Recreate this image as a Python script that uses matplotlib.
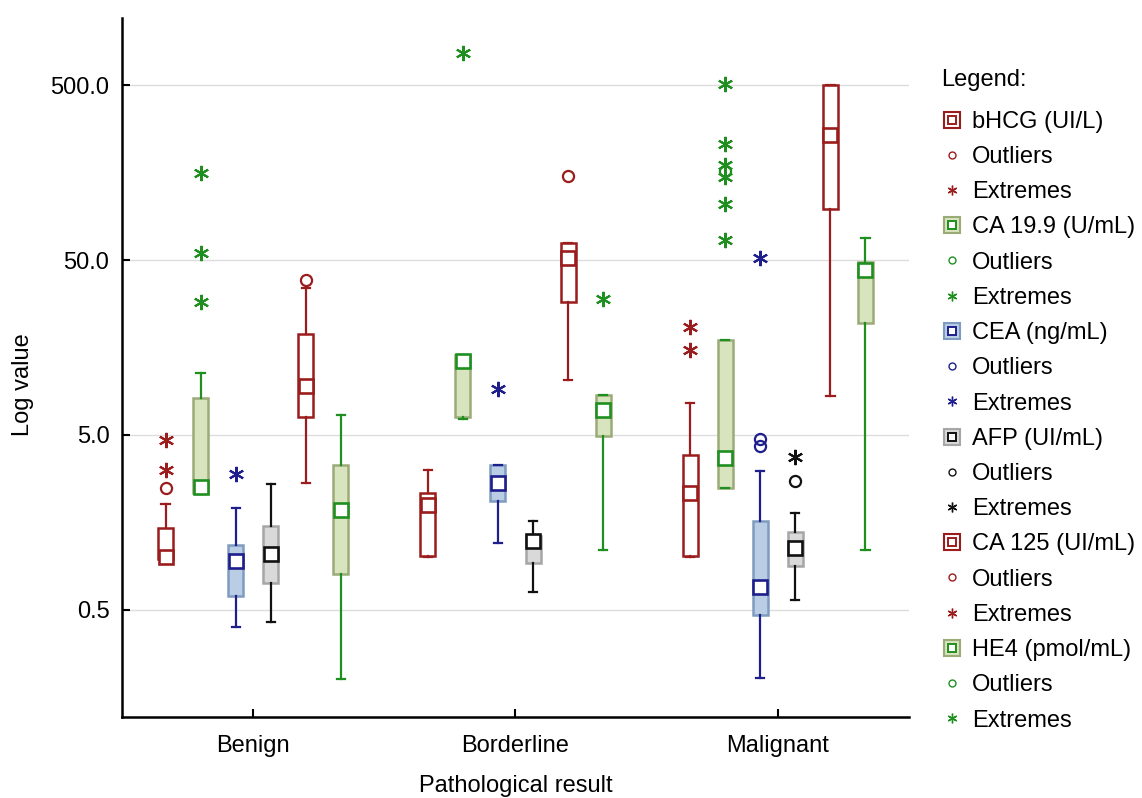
import numpy as np
import matplotlib
matplotlib.use("Agg")
import matplotlib.pyplot as plt
from matplotlib.lines import Line2D
from matplotlib.ticker import FixedLocator, FormatStrFormatter, NullLocator

plt.rcParams['font.family'] = ['Liberation Sans', 'DejaVu Sans']

groups = ["Benign", "Borderline", "Malignant"]
series = ["bHCG (UI/L)", "CA 19.9 (U/mL)", "CEA (ng/mL)", "AFP (UI/mL)",
          "CA 125 (UI/mL)", "HE4 (pmol/mL)"]

# rows = series, columns = groups
whisker_low = [[0.97, 1.0, 1.0], [2.3, 6.2, 2.5], [0.40, 1.21, 0.204],
               [0.427, 0.63, 0.57], [2.67, 10.3, 8.36], [0.20, 1.10, 1.10]]
q1 = [[0.98, 1.02, 1.01], [2.33, 6.34, 2.5], [0.597, 2.1, 0.47],
      [0.716, 0.93, 0.885], [6.34, 28.9, 97.5], [0.80, 4.92, 21.8]]
median = [[1.0, 1.99, 2.32], [2.52, 13.2, 3.67], [0.95, 2.67, 0.68],
          [1.05, 1.24, 1.13], [9.56, 51.1, 260], [1.86, 6.92, 43.9]]
q3 = [[1.47, 2.33, 3.85], [8.1, 14.3, 17.4], [1.17, 3.36, 1.62],
      [1.50, 1.32, 1.39], [18.9, 62.8, 500], [3.36, 8.5, 48.7]]
whisker_high = [[2.01, 3.17, 7.66], [11.3, 14.3, 17.4], [1.9, 3.36, 3.10],
                [2.61, 1.62, 1.79], [34.5, 62.8, 500], [6.53, 8.5, 66.6]]

outliers = [
    [[2.48], [], []],
    [[], [], [161]],
    [[], [], [4.73, 4.33]],
    [[], [], [2.73]],
    [[38.3], [152], []],
    [[], [], []],
]
extremes = [
    [[3.17, 4.67], [], [20.8, 15.3]],
    [[158, 55.2, 28.9], [763], [506, 231, 175, 150, 105, 65.4]],
    [[2.99], [9.18], [51.1]],
    [[], [], [3.73]],
    [[], [], []],
    [[], [29.8], []],
]

# styles per series: box fill, box edge, whisker/marker colour
box_fill = ["white", "#D7E4BD", "#B9CDE5", "#D9D9D9", "white", "#D7E4BD"]
box_edge = ["#9B1C1C", "#9AAB78", "#7F9BBF", "#A6A6A6", "#9B1C1C", "#9AAB78"]
line_col = ["#9B1C1C", "#1F8F1F", "#1E1E8C", "#111111", "#9B1C1C", "#1F8F1F"]

asterisk = (6, 2, 0)
FS = 17

fig = plt.figure(figsize=(11.42, 7.98), dpi=100)
ax = fig.add_axes([0.1068, 0.1015, 0.6892, 0.8759])

step = 0.1336
width = 0.057
for i, name in enumerate(series):
    pos = np.arange(len(groups)) + (i - 2.5) * step
    stats = []
    for j in range(len(groups)):
        stats.append(dict(whislo=whisker_low[i][j], q1=q1[i][j], med=median[i][j],
                          q3=q3[i][j], whishi=whisker_high[i][j], fliers=[]))
    ax.bxp(stats, positions=pos, widths=width, patch_artist=True,
           showfliers=False, capwidths=width * 0.55,
           boxprops=dict(facecolor=box_fill[i], edgecolor=box_edge[i], linewidth=1.8),
           whiskerprops=dict(color=line_col[i], linewidth=1.6),
           capprops=dict(color=line_col[i], linewidth=1.6),
           medianprops=dict(linestyle="none"), zorder=3)
    ax.plot(pos, median[i], linestyle="none", marker="s", markersize=10,
            markerfacecolor="white", markeredgecolor=line_col[i],
            markeredgewidth=1.9, zorder=4)
    for j in range(len(groups)):
        if outliers[i][j]:
            ax.plot([pos[j]] * len(outliers[i][j]), outliers[i][j], linestyle="none",
                    marker="o", markersize=8, markerfacecolor="none",
                    markeredgecolor=line_col[i], markeredgewidth=1.6, zorder=4)
        if extremes[i][j]:
            ax.plot([pos[j]] * len(extremes[i][j]), extremes[i][j], linestyle="none",
                    marker=asterisk, markersize=11, color=line_col[i],
                    markeredgewidth=1.5, zorder=4)

ax.set_yscale("log")
ax.set_ylim(0.122, 1210)
ax.set_xlim(-0.5, 2.5)
ax.yaxis.set_major_locator(FixedLocator([0.5, 5, 50, 500]))
ax.yaxis.set_minor_locator(NullLocator())
ax.yaxis.set_major_formatter(FormatStrFormatter("%.1f"))
ax.set_xticks(range(len(groups)))
ax.set_xticklabels(groups)
ax.tick_params(direction="in", length=6, width=1.5, labelsize=FS)
ax.tick_params(axis="y", pad=9)
ax.tick_params(axis="x", pad=13)
ax.grid(axis="y", color="#DDDDDD", linewidth=1)
ax.set_axisbelow(True)
for s in ["top", "right"]:
    ax.spines[s].set_visible(False)
for s in ["left", "bottom"]:
    ax.spines[s].set_linewidth(1.8)
ax.set_xlabel("Pathological result", fontsize=FS, labelpad=13)
ax.set_ylabel("Log value", fontsize=FS)
ax.yaxis.set_label_coords(-0.112, 0.475)

# legend
handles, labels = [], []
for i, name in enumerate(series):
    edge = line_col[i] if box_fill[i] == "white" else box_edge[i]
    outer = Line2D([], [], linestyle="none", marker="s", markersize=12,
                   markerfacecolor=box_fill[i], markeredgecolor=edge,
                   markeredgewidth=1.5)
    inner = Line2D([], [], linestyle="none", marker="s", markersize=6,
                   markerfacecolor="white", markeredgecolor=line_col[i], markeredgewidth=1.4)
    handles.append((outer, inner))
    labels.append(name)
    handles.append(Line2D([], [], linestyle="none", marker="o", markersize=5,
                          markerfacecolor="none", markeredgecolor=line_col[i]))
    labels.append("Outliers")
    handles.append(Line2D([], [], linestyle="none", marker=asterisk, markersize=7,
                          color=line_col[i], markeredgewidth=1.0))
    labels.append("Extremes")

fig.text(0.824, 0.8997, "Legend:", fontsize=FS, ha="left", va="center")
fig.legend(handles, labels, loc="upper left", bbox_to_anchor=(0.815, 0.873),
           frameon=False, fontsize=FS, handlelength=1.0, handletextpad=0.35,
           labelspacing=0.56, borderaxespad=0)

fig.savefig("out.png", dpi=100)
